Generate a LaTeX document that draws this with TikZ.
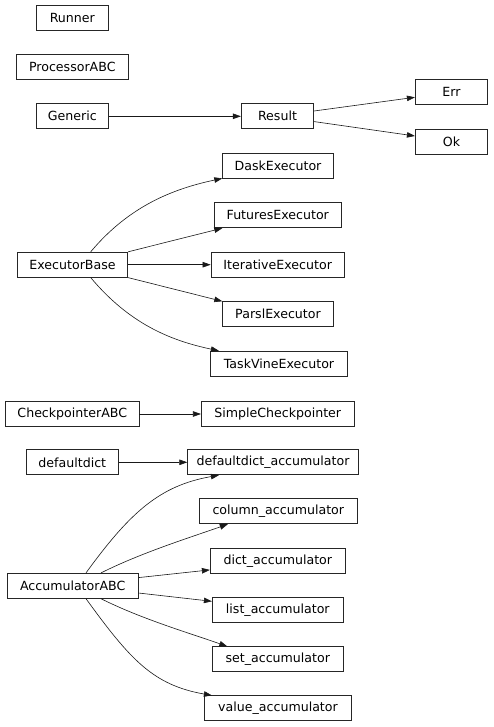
\documentclass[tikz,border=0pt]{standalone}
\usepackage{fontspec}
\setmainfont{DejaVu Sans}
\usetikzlibrary{arrows.meta}
\begin{document}
\begin{tikzpicture}[x=1pt,y=-1pt,
  cls/.style={draw=black!85,line width=0.8pt,inner sep=0pt,minimum height=25pt,font=\fontsize{12.6}{14}\selectfont},
  edge/.style={draw=black!90,line width=0.6pt,-{Triangle[length=8pt,width=5.5pt]}}]
\path[use as bounding box,fill=white] (0,0) rectangle (493,727);
\node[cls,minimum width=72pt] (runner) at (72.3,17.8) {Runner};
\node[cls,minimum width=112pt] (proc) at (72.3,67.2) {ProcessorABC};
\node[cls,minimum width=72pt] (generic) at (72.3,116.3) {Generic};
\node[cls,minimum width=72.4pt] (result) at (277.5,116.3) {Result};
\node[cls,minimum width=72.4pt] (err) at (451.5,92.3) {Err};
\node[cls,minimum width=72.4pt] (ok) at (451.5,141.8) {Ok};
\node[cls,minimum width=110.6pt] (dask) at (278,165.5) {DaskExecutor};
\node[cls,minimum width=127pt] (futures) at (277.8,215.3) {FuturesExecutor};
\node[cls,minimum width=110.4pt] (eb) at (72.5,264.7) {ExecutorBase};
\node[cls,minimum width=133.3pt] (iter) at (277.7,264.7) {IterativeExecutor};
\node[cls,minimum width=110.6pt] (parsl) at (278,314.2) {ParslExecutor};
\node[cls,minimum width=137.4pt] (tv) at (279,363.7) {TaskVineExecutor};
\node[cls,minimum width=133.3pt] (ckpt) at (72.3,414) {CheckpointerABC};
\node[cls,minimum width=152.7pt] (simple) at (277.7,414) {SimpleCheckpointer};
\node[cls,minimum width=92pt] (dd) at (72.3,462.3) {defaultdict};
\node[cls,minimum width=170.6pt] (dda) at (273,462.3) {defaultdict\_accumulator};
\node[cls,minimum width=158.7pt] (column) at (278.3,511.3) {column\_accumulator};
\node[cls,minimum width=135pt] (dict) at (277.8,561) {dict\_accumulator};
\node[cls,minimum width=130.7pt] (acc) at (72.7,585.8) {AccumulatorABC};
\node[cls,minimum width=131pt] (list) at (277.8,609.8) {list\_accumulator};
\node[cls,minimum width=131pt] (set) at (277.8,659.3) {set\_accumulator};
\node[cls,minimum width=146.6pt] (value) at (278,708.3) {value\_accumulator};

\draw[edge] (generic) -- (result);
\draw[edge] ([yshift=5.3pt]result.east) -- ([yshift=-5pt]err.west);
\draw[edge] ([yshift=-5.3pt]result.east) -- ([yshift=5.8pt]ok.west);

\draw[edge] ([xshift=18.2pt]eb.north) .. controls +(38.6,-46) and +(-48.9,10.4) .. (dask.south west);
\draw[edge] (eb.north east) -- ([xshift=8.4pt]futures.south west);
\draw[edge] (eb) -- (iter);
\draw[edge] (eb.south east) -- (parsl.north west);
\draw[edge] ([xshift=18.2pt]eb.south) .. controls +(38.6,46) and +(-48.9,-10.4) .. ([xshift=9pt]tv.north west);

\draw[edge] (ckpt) -- (simple);
\draw[edge] (dd) -- (dda);

\draw[edge] ([xshift=13.3pt]acc.north) .. controls +(44.1,-60.7) and +(-59.1,10.4) .. ([xshift=31.6pt]dda.south west);
\draw[edge] ([xshift=28.3pt]acc.north) .. controls +(40,-20) and +(-40,14) .. ([xshift=29.3pt]column.south west);
\draw[edge] ([yshift=-4.7pt]acc.north east) -- ([yshift=4pt]dict.south west);
\draw[edge] ([yshift=5.7pt]acc.south east) -- ([yshift=-4.4pt]list.north west);
\draw[edge] ([xshift=28.3pt]acc.south) .. controls +(40,20) and +(-40,-14) .. ([xshift=15.4pt]set.north west);
\draw[edge] ([xshift=13.3pt]acc.south) .. controls +(44.1,60.7) and +(-59.1,-10.4) .. ([xshift=7.6pt]value.north west);
\end{tikzpicture}
\end{document}
